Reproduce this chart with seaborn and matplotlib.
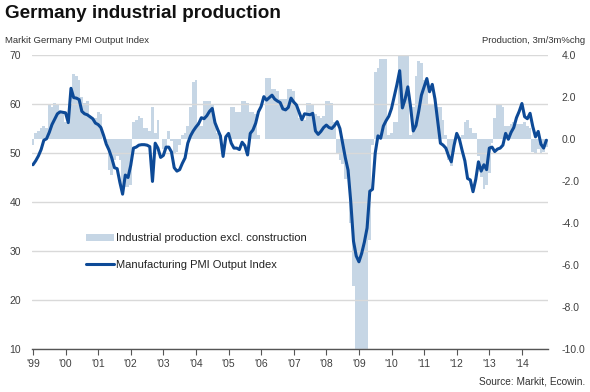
import numpy as np
import pandas as pd
import matplotlib
matplotlib.use("Agg")
import matplotlib.pyplot as plt
from matplotlib.patches import Patch
from matplotlib.lines import Line2D
import seaborn as sns

sns.set_theme(style="white")
plt.rcParams['font.family'] = ['Liberation Sans', 'DejaVu Sans']

# monthly, Jan 1999 .. Oct 2014
start_year = 1999

# Markit Germany PMI Output Index (left axis)
pmi = [
    47.6, 48.4, 49.4, 50.7, 52.6, 52.9, 54.2, 55.8, 56.9, 58.0, 58.4, 58.3,   # 1999
    58.2, 56.2, 63.2, 61.3, 61.2, 60.9, 58.5, 58.0, 57.8, 57.4, 57.0, 56.1,   # 2000
    55.8, 55.2, 53.6, 51.8, 50.6, 49.0, 47.0, 46.8, 44.0, 41.6, 45.5, 45.0,   # 2001
    47.5, 51.0, 51.2, 51.6, 51.7, 51.7, 51.6, 51.3, 44.2, 52.0, 51.0, 49.1,   # 2002
    49.5, 51.2, 51.2, 50.2, 47.0, 46.3, 46.6, 47.9, 49.0, 52.0, 53.5, 54.5,   # 2003
    55.3, 56.0, 57.2, 57.0, 57.6, 58.5, 59.1, 56.2, 54.8, 53.5, 49.3, 53.3,   # 2004
    54.0, 52.0, 51.0, 51.0, 50.7, 52.2, 51.5, 49.6, 54.0, 54.7, 56.1, 58.4,   # 2005
    59.5, 61.5, 60.8, 61.3, 61.8, 61.0, 60.6, 60.3, 59.0, 58.8, 59.3, 61.2,   # 2006
    60.4, 59.8, 58.3, 56.8, 58.0, 57.9, 57.8, 58.1, 54.5, 53.8, 54.4, 55.2,   # 2007
    55.7, 55.2, 55.0, 55.6, 56.4, 55.0, 52.0, 49.0, 46.5, 40.0, 32.0, 29.0,   # 2008
    27.8, 29.5, 31.8, 34.7, 42.2, 42.6, 50.0, 53.5, 53.0, 55.5, 56.6, 57.5,   # 2009
    59.1, 61.5, 64.0, 66.8, 59.2, 61.0, 63.5, 59.5, 54.5, 55.6, 58.5, 61.8,   # 2010
    63.5, 65.2, 62.5, 64.0, 61.0, 56.5, 52.0, 51.6, 51.0, 49.4, 48.2, 51.5,   # 2011
    54.0, 52.8, 50.5, 48.4, 44.8, 44.5, 42.1, 44.6, 48.2, 46.3, 47.6, 46.6,   # 2012
    51.0, 51.2, 50.3, 50.8, 51.0, 51.6, 54.0, 52.8, 54.2, 55.2, 57.2, 58.5,   # 2013
    60.1, 57.4, 57.0, 58.1, 55.4, 53.3, 54.4, 51.8, 51.0, 52.6,               # 2014
]

# Industrial production excl. construction, 3m/3m %chg (right axis)
production = [
    -0.3, 0.3, 0.4, 0.5, 0.6, 0.5, 1.6, 1.5, 1.7, 1.6, 1.3, 1.2,              # 1999
    0.8, 0.9, 1.6, 3.1, 3.0, 2.8, 2.0, 1.7, 1.8, 1.1, 1.0, 1.0,               # 2000
    1.3, 1.2, 0.0, -0.2, -1.5, -1.7, -1.0, -0.8, -1.0, -2.2, -2.3, -2.3,      # 2001
    -2.2, 0.8, 0.9, 1.1, 1.0, 0.5, 0.5, 0.4, 1.5, 0.3, 0.9, 0.0,             # 2002
    -0.5, -0.4, 0.4, -0.1, -0.7, -0.6, -0.3, 0.2, 0.3, 0.6, 1.5, 2.7,        # 2003
    2.8, 0.8, 0.6, 1.8, 1.8, 1.8, 1.6, 0.9, 0.3, 0.2, 0.0, 0.1,               # 2004
    0.0, 1.5, 1.5, 1.3, 1.3, 1.8, 1.8, 1.7, 1.3, 1.3, 1.2, 0.2,               # 2005
    0.0, 0.0, 2.9, 2.9, 2.4, 2.4, 2.3, 1.9, 1.9, 1.9, 2.4, 2.4,               # 2006
    2.3, 1.6, 1.0, 0.9, 0.9, 1.7, 1.7, 1.6, 1.2, 1.1, 1.0, 1.1,               # 2007
    1.8, 1.8, 1.7, 0.8, -0.7, -1.0, -1.2, -1.9, -1.4, -4.0, -7.0, -11.5,     # 2008
    -13.0, -14.5, -13.5, -11.0, -4.8, -0.3, 3.2, 3.4, 3.8, 3.8, 3.8, 0.2,    # 2009
    0.3, 0.8, 0.8, 4.3, 4.5, 4.5, 4.2, 0.2, 1.5, 3.0, 3.7, 3.6,               # 2010
    2.8, 2.6, 1.6, 1.6, 1.7, 1.5, 1.5, 0.9, 0.2, -1.0, -1.3, -0.6,           # 2011
    0.0, 0.1, 0.2, 0.8, 0.9, 0.5, 0.3, 0.3, -0.8, -1.8, -2.4, -2.2,          # 2012
    -1.6, -0.2, 1.0, 1.6, 1.6, 1.5, 0.6, 0.6, 0.7, 0.8, 0.7, 0.7,            # 2013
    0.7, 0.8, 0.6, 0.5, -0.6, -0.7, -0.5, -0.7, -0.6, -0.4,                  # 2014
]

year_ticks = list(range(1999, 2015))
year_labels = ["'" + str(y)[2:] for y in year_ticks]
pmi_ticks = [10, 20, 30, 40, 50, 60, 70]
prod_ticks = [-10, -8, -6, -4, -2, 0, 2, 4]

df = pd.DataFrame({
    "t": start_year + np.arange(len(pmi)) / 12.0,
    "pmi": pmi,
    "production": production,
})

bar_color = "#c6d6e5"
line_color = "#0d4a97"
text_color = "#404040"

fig = plt.figure(figsize=(5.9, 3.92), dpi=100)
ax = fig.add_axes([0.0542, 0.1097, 0.8746, 0.75])
ax2 = ax.twinx()

sns.barplot(data=df, x="t", y="production", native_scale=True, width=1.0,
            color=bar_color, saturation=1, linewidth=0, errorbar=None, ax=ax2)
sns.lineplot(data=df, x="t", y="pmi", color=line_color, linewidth=2.2, ax=ax)

ax.set_zorder(ax2.get_zorder() + 1)
ax.patch.set_visible(False)

ax.set_xlim(1998.97, 2014.8)
ax.set_ylim(10, 70)
ax2.set_ylim(-10, 4)

ax.set_yticks(pmi_ticks)
ax.set_yticklabels([str(v) for v in pmi_ticks])
ax2.set_yticks(prod_ticks)
ax2.set_yticklabels([f"{v:.1f}" for v in prod_ticks])
ax.set_xticks(year_ticks)
ax.set_xticklabels(year_labels)

ax.grid(axis="y", color="#d9d9d9", linewidth=1.0)
ax.grid(axis="x", visible=False)
ax2.grid(False)

for a in (ax, ax2):
    a.set_xlabel("")
    a.set_ylabel("")
    for side in ("top", "left", "right"):
        a.spines[side].set_visible(False)
ax2.spines["bottom"].set_visible(False)
ax.spines["bottom"].set_color("#555555")
ax.spines["bottom"].set_linewidth(1.0)

ax.tick_params(axis="y", length=0, pad=8, labelsize=7.5, labelcolor=text_color)
ax2.tick_params(axis="y", length=0, pad=10, labelsize=7.5, labelcolor=text_color)
ax.tick_params(axis="x", length=4, width=0.8, color="#555555", direction="out",
               bottom=True, pad=3, labelsize=7.5, labelcolor=text_color)

handles = [Patch(facecolor=bar_color, edgecolor="none"),
           Line2D([0], [0], color=line_color, linewidth=2.2)]
ax.legend(handles, ["Industrial production excl. construction",
                    "Manufacturing PMI Output Index"],
          loc="upper left", bbox_to_anchor=(0.085, 0.427), frameon=False,
          fontsize=8, handlelength=2.5, handleheight=0.6, handletextpad=0.2,
          labelspacing=1.45, labelcolor="#222222")

fig.text(0.009, 0.988, "Germany industrial production", fontsize=13.6,
         fontweight="bold", color="#111111", ha="left", va="top")
fig.text(0.009, 0.897, "Markit Germany PMI Output Index", fontsize=6.8,
         color="#333333", ha="left", va="center")
fig.text(0.992, 0.897, "Production, 3m/3m%chg", fontsize=6.8,
         color="#333333", ha="right", va="center")
fig.text(0.992, 0.027, "Source: Markit, Ecowin.", fontsize=7.3,
         color="#333333", ha="right", va="center")

fig.savefig("out.png", dpi=100)
